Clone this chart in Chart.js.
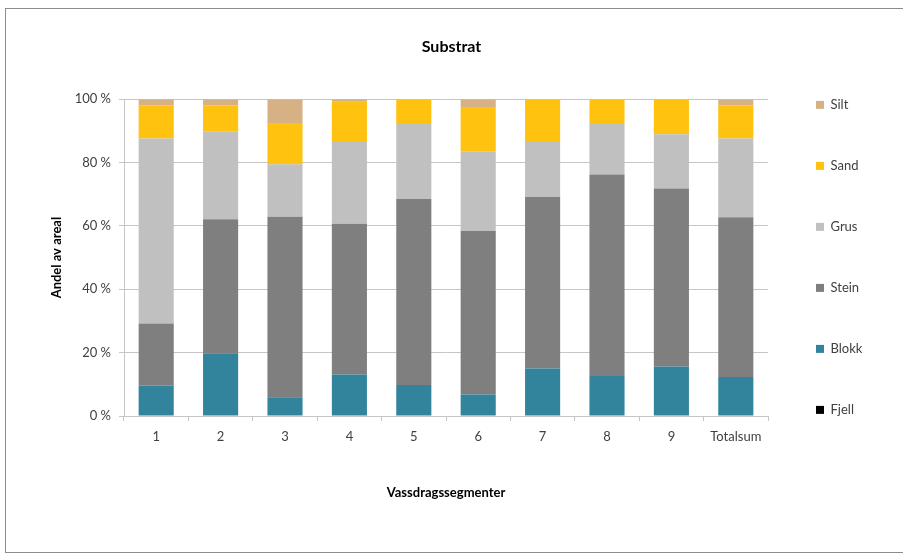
<!DOCTYPE html>
<html>
<head>
<meta charset="utf-8">
<script src="https://cdn.jsdelivr.net/npm/chart.js@4"></script>
<style>
  html, body { margin: 0; padding: 0; background: #fff; overflow: hidden; }
  #wrap { position: relative; width: 903px; height: 555px; overflow: hidden; }
  #frame {
    position: absolute; left: 5px; top: 8px; width: 910px; height: 545px;
    border: 1px solid #8c8c8c; box-sizing: border-box; pointer-events: none;
  }
  canvas { position: absolute; left: 0; top: 0; }
</style>
</head>
<body>
<div id="wrap">
  <canvas id="substratChart" width="903" height="555"></canvas>
  <div id="frame"></div>
</div>
<script>
// Kategorier (vassdragssegmenter)
const segments = ['1', '2', '3', '4', '5', '6', '7', '8', '9', 'Totalsum'];

// Andel av areal i prosent, lest av figuren
const fjell = [0, 0, 0, 0, 0, 0, 0, 0, 0, 0];
const blokk = [9.6, 19.8, 5.9, 13.1, 9.8, 6.8, 15.0, 12.6, 15.6, 12.3];
const stein = [19.6, 42.3, 57.0, 47.6, 58.7, 51.6, 54.1, 63.6, 56.2, 50.4];
const grus  = [58.4, 27.8, 16.6, 26.1, 24.0, 25.2, 17.4, 16.3, 17.1, 24.9];
const sand  = [10.5, 8.2, 13.0, 12.4, 7.5, 13.9, 13.5, 7.5, 11.1, 10.5];
const silt  = [1.9, 1.9, 7.5, 0.8, 0, 2.5, 0, 0, 0, 1.9];

const yTicks = [0, 20, 40, 60, 80, 100];

const fontFam = "Lato, 'Liberation Sans', sans-serif";
const gridColor = '#c6c6c6';

const mkSet = (label, data, color) => ({
    label: label,
    data: data,
    backgroundColor: color,
    borderWidth: 0,
    categoryPercentage: 1,
    barPercentage: 0.545
});

// legenden skal ha fast bredde saa plottet slutter paa samme sted som i Excel
const legendWidth = {
    id: 'legendWidth',
    afterInit(chart) {
        const lg = chart.legend;
        if (!lg) return;
        const fit = lg.fit.bind(lg);
        lg.fit = function () { fit(); this.width = 135; };
    }
};

new Chart(document.getElementById('substratChart'), {
    type: 'bar',
    data: {
        labels: segments,
        datasets: [
            mkSet('Fjell', fjell, '#000000'),
            mkSet('Blokk', blokk, '#31849b'),
            mkSet('Stein', stein, '#7f7f7f'),
            mkSet('Grus', grus, '#c0c0c0'),
            mkSet('Sand', sand, '#ffc20e'),
            mkSet('Silt', silt, '#d5b185')
        ]
    },
    plugins: [legendWidth],
    options: {
        responsive: false,
        animation: false,
        layout: { padding: 0 },
        plugins: {
            title: {
                display: true,
                text: 'Substrat',
                color: '#000',
                font: { family: fontFam, size: 16, weight: 'bold' },
                padding: { top: 37, bottom: 43 }
            },
            legend: {
                position: 'right',
                align: 'start',
                reverse: true,
                // tom tittel brukes bare som luft over foerste element
                title: {
                    display: true,
                    text: '',
                    font: { family: fontFam, size: 12 },
                    padding: { top: 36, bottom: 0 }
                },
                labels: {
                    boxWidth: 8,
                    boxHeight: 8,
                    padding: 48,
                    color: '#404040',
                    font: { family: fontFam, size: 13 }
                }
            },
            tooltip: { enabled: false }
        },
        scales: {
            x: {
                stacked: true,
                afterFit: s => { s.height = 139; },
                grid: {
                    offset: true,
                    drawOnChartArea: false,
                    drawTicks: true,
                    tickLength: 5,
                    color: gridColor
                },
                border: { display: true, color: gridColor },
                ticks: {
                    color: '#404040',
                    padding: 8,
                    font: { family: fontFam, size: 13 }
                },
                title: {
                    display: true,
                    text: 'Vassdragssegmenter',
                    color: '#000',
                    font: { family: fontFam, size: 13, weight: 'bold' },
                    padding: { top: 0, bottom: 54 }
                }
            },
            y: {
                stacked: true,
                min: 0,
                max: 100,
                afterFit: s => { s.width = 124; },
                afterBuildTicks: s => { s.ticks = yTicks.map(v => ({ value: v })); },
                grid: {
                    color: gridColor,
                    tickLength: 5
                },
                border: { display: true, color: gridColor },
                ticks: {
                    color: '#404040',
                    padding: 8,
                    font: { family: fontFam, size: 13 },
                    callback: v => v + ' %'
                },
                title: {
                    display: true,
                    text: 'Andel av areal',
                    color: '#000',
                    font: { family: fontFam, size: 13, weight: 'bold' },
                    padding: { top: 49, bottom: 0 }
                }
            }
        }
    }
});
</script>
</body>
</html>
